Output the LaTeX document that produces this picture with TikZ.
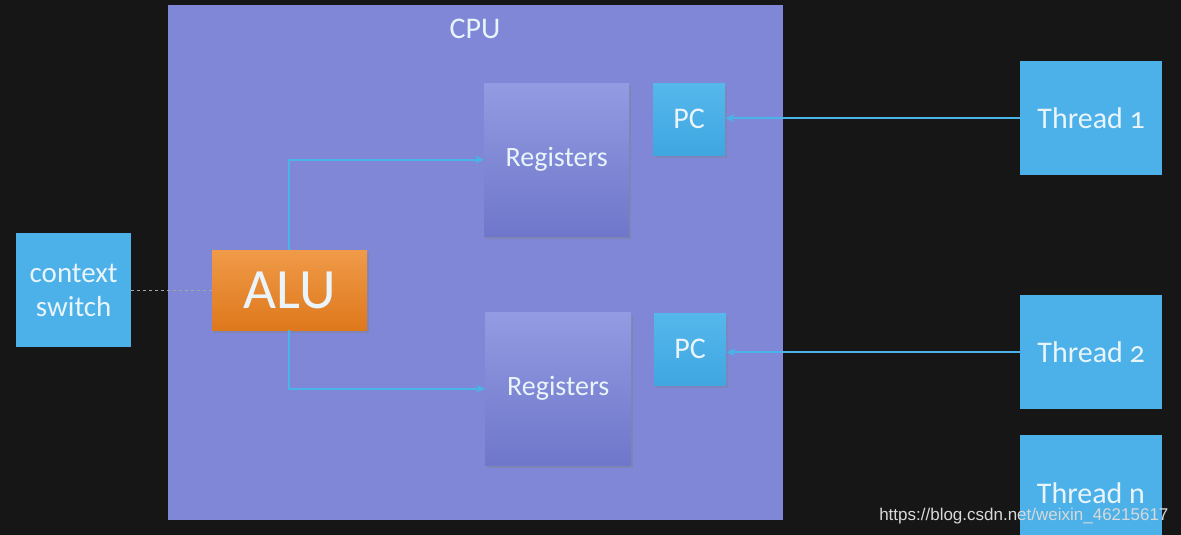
\documentclass[tikz,border=0pt]{standalone}
\usepackage{fontspec}
\setmainfont{Carlito}[Numbers=OldStyle]
\newfontfamily\wmfont{Liberation Sans}
\usetikzlibrary{shadows,arrows.meta}
\definecolor{bgc}{HTML}{161616}
\definecolor{cpuc}{HTML}{7F87D6}
\definecolor{regtop}{HTML}{939BE2}
\definecolor{regbot}{HTML}{6E77CA}
\definecolor{bluec}{HTML}{4BB1E8}
\definecolor{bluetop}{HTML}{55B8EC}
\definecolor{bluebot}{HTML}{3FA6E0}
\definecolor{orangetop}{HTML}{F09A48}
\definecolor{orangebot}{HTML}{DE781C}
\definecolor{linec}{HTML}{4AB3E8}
\definecolor{txtc}{HTML}{EAF4FB}
\tikzset{
  box/.style={inner sep=0pt, anchor=north west, text=txtc, align=center},
  regbox/.style={box, top color=regtop, bottom color=regbot, drop shadow={shadow xshift=2pt, shadow yshift=-3pt, opacity=0.35}, font=\fontsize{28}{30}\selectfont},
  pcbox/.style={box, top color=bluetop, bottom color=bluebot, drop shadow={shadow xshift=2pt, shadow yshift=-3pt, opacity=0.3}, font=\fontsize{30}{32}\selectfont},
  threadbox/.style={box, fill=bluec, font=\fontsize{30}{32}\selectfont},
  conn/.style={draw=linec, line width=1.8pt, -{Stealth[length=9pt,width=8pt]}},
}
\begin{document}
\begin{tikzpicture}[x=1pt,y=-1pt]
\useasboundingbox (0,0) rectangle (1181,535);
\fill[bgc] (0,0) rectangle (1181,535);
% CPU
\node[box, fill=cpuc, minimum width=615, minimum height=515] (cpu) at (168,5) {};
\node[text=txtc, font=\fontsize{30}{32}\selectfont] (cpulabel) at (475,29) {CPU};
% Registers
\node[regbox, minimum width=145, minimum height=153] (reg1) at (484,83) {\raisebox{-3pt}{Registers}};
\node[regbox, minimum width=146, minimum height=153] (reg2) at (485,312) {\raisebox{-3pt}{Registers}};
% PC
\node[pcbox, minimum width=72, minimum height=72] (pc1) at (653,83) {PC};
\node[pcbox, minimum width=72, minimum height=72] (pc2) at (654,313) {PC};
% Threads
\node[threadbox, minimum width=142, minimum height=114] (t1) at (1020,61) {\raisebox{-2pt}{Thread 1}};
\node[threadbox, minimum width=142, minimum height=114] (t2) at (1020,295) {\raisebox{-2pt}{Thread 2}};
\node[threadbox, minimum width=142, minimum height=110] (tn) at (1020,435) {};
\node[text=txtc, font=\fontsize{30}{32}\selectfont] (tnlabel) at (1091,493) {Thread n};
% context switch
\node[box, fill=bluec, minimum width=115, minimum height=114, font=\fontsize{29}{34}\selectfont] (cs) at (16,233) {context\\switch};
% ALU
\node[box, top color=orangetop, bottom color=orangebot, minimum width=155, minimum height=80, drop shadow={shadow xshift=2pt, shadow yshift=-3pt, opacity=0.35}, font=\fontsize{57}{57}\selectfont] (alu) at (212,250) {ALU};
% connectors
\draw[conn] (alu.north -| 289,0) |- (reg1.west);
\draw[conn] (alu.south -| 289,0) |- (reg2.west);
\draw[conn] (t1.west) -- (t1.west -| pc1.east);
\draw[conn] (t2.west) -- (t2.west -| pc2.east);
\draw[draw=gray!70, dashed, line width=0.8pt] (cs.east) -- (alu.west);
% watermark
\node[anchor=east, text=white!85!black, font=\wmfont\fontsize{17}{17}\selectfont] (wm) at (1172,516) {https://blog.csdn.net/weixin\_46215617};
\end{tikzpicture}
\end{document}
